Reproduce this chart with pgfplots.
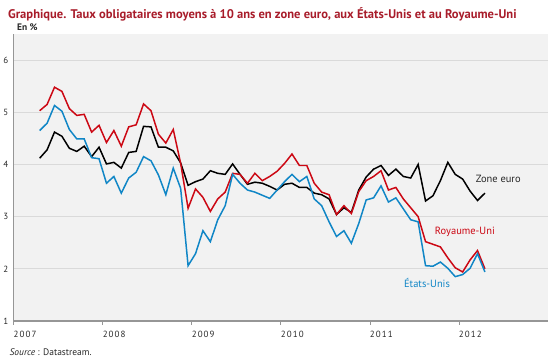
\documentclass[border=0pt]{standalone}
\usepackage{fontspec}
\setmainfont{PT Sans}
\newfontfamily\yearfont[LetterSpace=12]{PT Sans}
\usepackage{pgfplots}
\pgfplotsset{compat=1.18}
\usepackage{pgfplotstable}
\definecolor{titlered}{RGB}{168,28,42}
\definecolor{ukred}{RGB}{204,8,20}
\definecolor{usblue}{RGB}{16,134,198}
\definecolor{axisgray}{RGB}{150,150,150}
\definecolor{gridgray}{RGB}{218,218,218}
\definecolor{bggray}{RGB}{242,242,242}
\definecolor{txtgray}{RGB}{40,40,40}

\pgfplotstableread{
x eu us uk
3.5 4.12 4.65 5.03
4.5 4.28 4.79 5.15
5.5 4.62 5.13 5.48
6.5 4.54 5.02 5.40
7.5 4.31 4.67 5.07
8.5 4.25 4.49 4.94
9.5 4.35 4.49 4.96
10.5 4.15 4.13 4.62
11.5 4.33 4.11 4.75
12.5 4.01 3.64 4.42
13.5 4.04 3.77 4.65
14.5 3.93 3.45 4.35
15.5 4.23 3.74 4.72
16.5 4.25 3.85 4.76
17.5 4.73 4.15 5.16
18.5 4.72 4.07 5.03
19.5 4.33 3.80 4.58
20.5 4.33 3.42 4.41
21.5 4.26 3.93 4.67
22.5 4.03 3.54 4.02
23.5 3.60 2.06 3.16
24.5 3.67 2.29 3.53
25.5 3.72 2.73 3.37
26.5 3.88 2.52 3.10
27.5 3.83 2.94 3.34
28.5 3.81 3.21 3.47
29.5 4.01 3.81 3.83
30.5 3.81 3.64 3.81
31.5 3.62 3.51 3.64
32.5 3.66 3.47 3.83
33.5 3.64 3.41 3.69
34.5 3.58 3.35 3.77
35.5 3.51 3.51 3.87
36.5 3.62 3.67 4.02
37.5 3.64 3.81 4.20
38.5 3.56 3.67 3.98
39.5 3.56 3.77 3.98
40.5 3.45 3.34 3.64
41.5 3.42 3.21 3.47
42.5 3.34 2.90 3.42
43.5 3.04 2.62 3.04
44.5 3.17 2.73 3.21
45.5 3.08 2.49 3.06
46.5 3.51 2.87 3.48
47.5 3.76 3.32 3.69
48.5 3.91 3.36 3.77
49.5 3.98 3.59 3.88
50.5 3.79 3.28 3.51
51.5 3.91 3.36 3.56
52.5 3.77 3.15 3.34
53.5 3.74 2.94 3.17
54.5 4.00 2.90 3.00
55.5 3.30 2.06 2.52
56.5 3.40 2.05 2.47
57.5 3.69 2.13 2.42
58.5 4.04 2.01 2.21
59.5 3.81 1.85 2.02
60.5 3.72 1.89 1.94
61.5 3.49 2.01 2.17
62.5 3.31 2.29 2.35
63.5 3.45 1.94 2.00
}\data

\begin{document}
\begin{tikzpicture}
\useasboundingbox (-13.7bp,-39bp) rectangle (536.3bp,321bp);
\begin{axis}[
  at={(0,0)}, anchor=south west,
  scale only axis,
  width=534.3bp, height=287bp,
  xmin=0, xmax=72, ymin=1, ymax=6.5,
  axis background/.style={fill=bggray},
  axis x line=bottom, axis y line=left,
  axis line style={-, draw=axisgray, line width=1.6pt},
  xtick={0,12,24,36,48,60},
  xticklabels={2007,2008,2009,2010,2011,2012},
  xticklabel style={anchor=north west, xshift=-3.5bp, yshift=-3bp, font=\yearfont\fontsize{9}{10}\selectfont, text=txtgray},
  ytick={1,2,3,4,5,6},
  yticklabel style={font=\fontsize{9}{10}\selectfont, text=txtgray, xshift=1.5bp},
  /pgf/number format/assume math mode=true,
  x tick style={draw=axisgray, line width=0.8pt},
  y tick style={draw=none},
  tick align=outside,
  major tick length=3.5bp,
  ymajorgrids,
  grid style={draw=gridgray, line width=0.9pt},
  clip=false,
]
\addplot[black, line width=1.5pt] table[x=x, y=eu] {\data};
\addplot[ukred, line width=1.5pt] table[x=x, y=uk] {\data};
\addplot[usblue, line width=1.5pt] table[x=x, y=us] {\data};
\node[font=\fontsize{10.5}{12}\selectfont, text=txtgray] at (axis cs:65.3,3.73) {Zone euro};
\node[font=\fontsize{10.5}{12}\selectfont, text=ukred] at (axis cs:60.8,2.71) {Royaume-Uni};
\node[font=\fontsize{10.5}{12}\selectfont, text=usblue] at (axis cs:55.7,1.73) {États-Unis};
\end{axis}
\node[anchor=west, font=\bfseries\fontsize{12.6}{14}\selectfont, text=titlered, inner sep=0pt] at (-5.7bp,307bp) {Graphique. Taux obligataires moyens à 10 ans en zone euro, aux États-Unis et au Royaume-Uni};
\node[anchor=west, font=\bfseries\fontsize{9.5}{11}\selectfont, text=txtgray, inner sep=0pt] at (3.3bp,294bp) {En \%};
\node[anchor=west, font=\fontsize{9.5}{11}\selectfont, text=txtgray, inner sep=0pt] at (-4.2bp,-31bp) {\textit{Source}~: Datastream.};
\end{tikzpicture}
\end{document}
